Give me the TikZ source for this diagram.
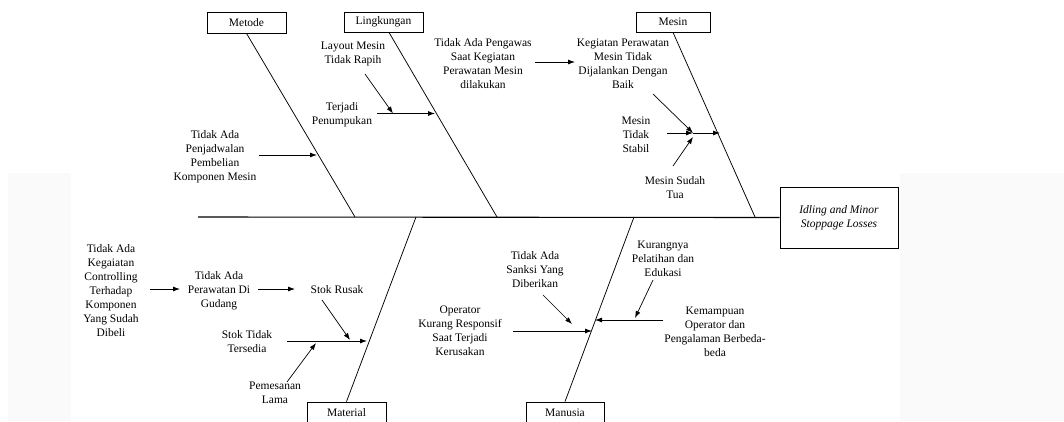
\documentclass[tikz,border=0pt]{standalone}
\usepackage{fontspec}
\setmainfont{Liberation Serif}
\usetikzlibrary{arrows.meta}
\begin{document}
\begin{tikzpicture}[x=1pt,y=-1pt,
 lbl/.style={align=center,font=\fontsize{11.5}{14}\selectfont,inner sep=0pt},
 cat/.style={draw,line width=0.8pt,minimum width=79pt,minimum height=21pt,inner sep=0pt,font=\fontsize{11.5}{14}\selectfont},
 bone/.style={line width=0.75pt},
 spine/.style={line width=1.1pt},
 arr/.style={line width=0.8pt,-{Latex[length=7pt,width=5pt]}},
]
\useasboundingbox (0,0) rectangle (1064,421);
\fill[black!2] (8,173) rectangle (71,421);
\fill[black!2] (900,173) rectangle (1064,421);

% category boxes
\node[cat] (metode) at (246.5,22.5) {Metode};
\node[cat,minimum height=20pt] (ling) at (383.5,22) {Lingkungan};
\node[cat,minimum width=74pt,minimum height=20pt] (mesin) at (673,22) {Mesin};
\node[cat] (material) at (346.5,412.5) {Material};
\node[cat,minimum width=78pt] (manusia) at (565,412.5) {Manusia};

% effect
\node[draw,line width=0.8pt,minimum width=118pt,minimum height=61pt,inner sep=0pt,align=center,
  font=\fontsize{11.5}{14}\selectfont\itshape] (effect) at (839,217.5) {Idling and Minor\\Stoppage Losses};

% spine and bones
\coordinate (tail) at (198,217);
\draw[spine] (tail) -- (effect.west);
\coordinate (jm) at (355,217);
\coordinate (jl) at (497,217);
\coordinate (js) at (755,217);
\coordinate (jt) at (416,217);
\coordinate (jn) at (634,217);
\draw[bone] (metode.south) -- (jm);
\draw[bone] ([xshift=5.5pt]ling.south) -- (jl);
\draw[bone] (mesin.south) -- (js);
\draw[bone] (material.north) -- (jt);
\draw[bone] (manusia.north) -- (jn);

% labels
\node[lbl] (penjadwalan) at (215,157) {Tidak Ada\\Penjadwalan\\Pembelian\\Komponen Mesin};
\node[lbl] (layout) at (353,54) {Layout Mesin\\Tidak Rapih};
\node[lbl] (terjadi) at (342,115) {Terjadi\\Penumpukan};
\node[lbl] (pengawas) at (483,64) {Tidak Ada Pengawas\\Saat Kegiatan\\Perawatan Mesin\\dilakukan};
\node[lbl] (kegiatan) at (623,64) {Kegiatan Perawatan\\Mesin Tidak\\Dijalankan Dengan\\Baik};
\node[lbl] (stabil) at (636,135) {Mesin\\Tidak\\Stabil};
\node[lbl] (tua) at (675,187.5) {Mesin Sudah\\Tua};
\node[lbl] (controlling) at (111,290.5) {Tidak Ada\\Kegaiatan\\Controlling\\Terhadap\\Komponen\\Yang Sudah\\Dibeli};
\node[lbl] (gudang) at (219,290.5) {Tidak Ada\\Perawatan Di\\Gudang};
\node[lbl] (rusak) at (337,290) {Stok Rusak};
\node[lbl] (tersedia) at (247,341.5) {Stok Tidak\\Tersedia};
\node[lbl] (pemesanan) at (275,392.5) {Pemesanan\\Lama};
\node[lbl] (sanksi) at (535,269.5) {Tidak Ada\\Sanksi Yang\\Diberikan};
\node[lbl] (operator) at (460,331) {Operator\\Kurang Responsif\\Saat Terjadi\\Kerusakan};
\node[lbl] (kurangnya) at (663,259) {Kurangnya\\Pelatihan dan\\Edukasi};
\node[lbl] (kemampuan) at (715,331.5) {Kemampuan\\Operator dan\\Pengalaman Berbeda-\\beda};

% Metode
\coordinate (a1s) at (259,155); \coordinate (a1e) at (317,155);
\draw[arr] (a1s) -- (a1e);
% Lingkungan
\coordinate (a2s) at (377,113.5); \coordinate (a2e) at (435,113.5);
\coordinate (a2m) at (393,113.5);
\draw[arr] (a2s) -- (a2e);
\coordinate (a3s) at (365,74);
\draw[arr,line width=0.7pt] (a3s) -- (a2m);
\coordinate (a4s) at (535,62); \coordinate (a4e) at (575,62);
\draw[arr] (a4s) -- (a4e);
% Mesin
\coordinate (a5s) at (667,133); \coordinate (a5m) at (693,133); \coordinate (a5e) at (720,133);
\draw[arr] (a5s) -- (a5m);
\draw[arr] (a5m) -- (a5e);
\coordinate (a6s) at (653,94);
\draw[arr,line width=0.7pt] (a6s) -- (a5m);
\coordinate (a7s) at (673,166); \coordinate (a7e) at (693,137);
\draw[arr,line width=0.7pt] (a7s) -- (a7e);
% Material
\coordinate (b1s) at (150,289); \coordinate (b1e) at (180,289);
\draw[arr] (b1s) -- (b1e);
\coordinate (b2s) at (258,289); \coordinate (b2e) at (295,289);
\draw[arr] (b2s) -- (b2e);
\coordinate (b3s) at (287,341); \coordinate (b3e) at (367,341);
\draw[arr] (b3s) -- (b3e);
\coordinate (b4s) at (322,300); \coordinate (b4e) at (350,340);
\draw[arr,line width=0.7pt] (b4s) -- (b4e);
\coordinate (b5s) at (287,382); \coordinate (b5e) at (316,343);
\draw[arr,line width=0.7pt] (b5s) -- (b5e);
% Manusia
\coordinate (c1s) at (513,331); \coordinate (c1e) at (592,331);
\draw[arr] (c1s) -- (c1e);
\coordinate (c2s) at (543,295); \coordinate (c2e) at (572,324);
\draw[arr,line width=0.7pt] (c2s) -- (c2e);
\coordinate (c3s) at (663,320); \coordinate (c3e) at (595,320);
\draw[arr] (c3s) -- (c3e);
\coordinate (c4s) at (653,280); \coordinate (c4e) at (635,318);
\draw[arr,line width=0.7pt] (c4s) -- (c4e);
\end{tikzpicture}
\end{document}
